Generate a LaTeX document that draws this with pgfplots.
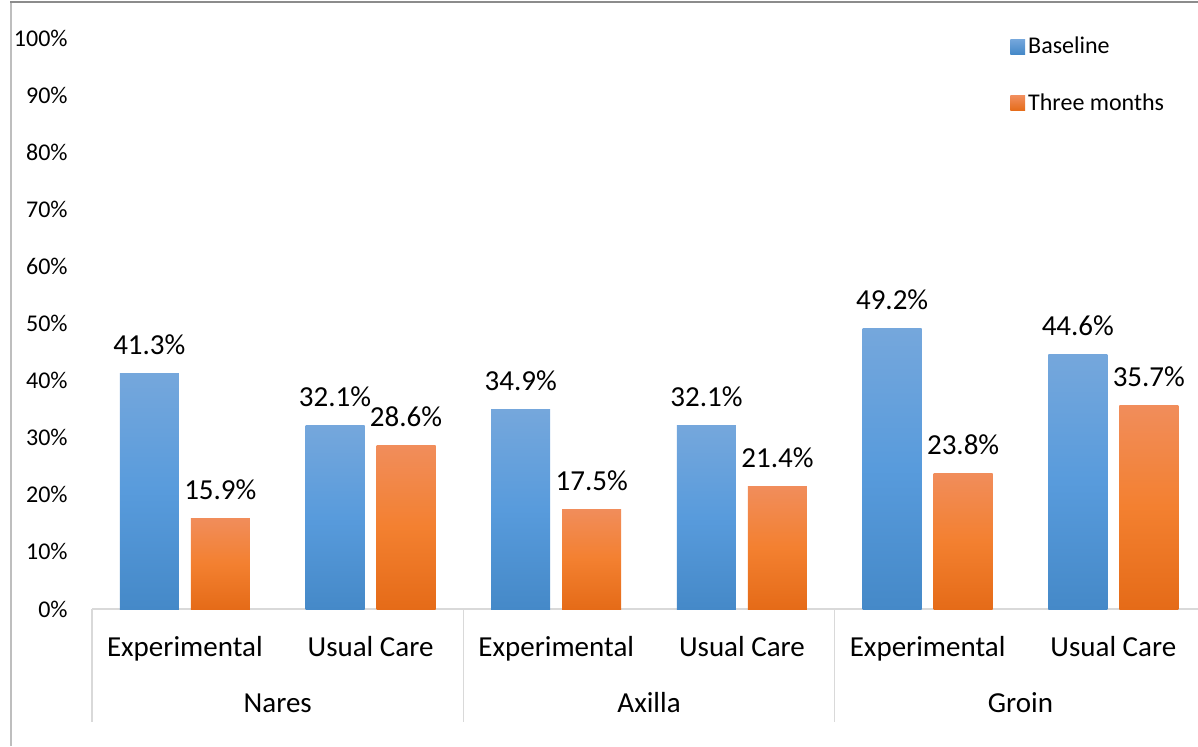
\documentclass[border=0pt]{standalone}
\usepackage{pgfplots}
\pgfplotsset{compat=1.18}
\usepackage{fontspec}
\setmainfont{Carlito}
\definecolor{bluetop}{RGB}{117,167,220}
\definecolor{bluemid}{RGB}{88,155,220}
\definecolor{bluebot}{RGB}{69,137,200}
\definecolor{orgtop}{RGB}{241,141,91}
\definecolor{orgmid}{RGB}{243,128,48}
\definecolor{orgbot}{RGB}{229,107,24}
\definecolor{sepgray}{RGB}{217,217,217}
\definecolor{topgray}{RGB}{140,140,140}
\definecolor{leftgray}{RGB}{190,190,190}
\pgfplotsset{
  bbar/.style={ybar, bar width=29.5pt, bar shift=-17.75pt, draw=none,
    top color=bluetop, bottom color=bluebot, middle color=bluemid, forget plot,
    every node near coord/.append style={xshift=-17.75pt}},
  obar/.style={ybar, bar width=29.5pt, bar shift=17.75pt, draw=none,
    top color=orgtop, bottom color=orgbot, middle color=orgmid, forget plot,
    every node near coord/.append style={xshift=17.75pt}},
}
\begin{document}
\begin{tikzpicture}[x=1pt,y=1pt]
\useasboundingbox (0,0) rectangle (599,373);
\draw[leftgray, line width=0.8pt] (5.5,0) -- (5.5,372);
\draw[topgray, line width=0.8pt] (5.1,372) -- (599,372);
\begin{axis}[
  at={(46pt,68.5pt)}, anchor=south west,
  scale only axis, width=553pt, height=285.5pt,
  xmin=-0.5, xmax=5.456, ymin=0, ymax=100,
  clip=false,
  axis x line*=bottom, axis y line*=left,
  y axis line style={draw=none},
  x axis line style={sepgray, line width=0.65pt},
  xtick={0,1,2,3,4,5},
  xticklabels={Experimental,Usual Care,Experimental,Usual Care,Experimental,Usual Care},
  xtick style={draw=none}, ytick style={draw=none},
  ytick={0,10,...,100},
  yticklabel={\pgfmathprintnumber{\tick}\%},
  /pgf/number format/assume math mode=true,
  yticklabel style={anchor=east, inner sep=0pt, xshift=-12pt, font=\fontsize{12}{14}\selectfont},
  xticklabel style={anchor=base, inner sep=0pt, yshift=-23.5pt, font=\fontsize{14.5}{17}\selectfont},
  nodes near coords={\pgfmathprintnumber[fixed,fixed zerofill,precision=1]{\pgfplotspointmeta}\%},
  nodes near coords style={anchor=base, inner sep=0pt, yshift=9.5pt, text=black, font=\fontsize{14.5}{17}\selectfont},
  legend style={at={(axis description cs:0.830,1.008)}, anchor=north west, draw=none, fill=none,
    inner sep=0pt, row sep=15.5pt, font=\fontsize{12}{14}\selectfont,
    nodes={inner sep=1.5pt}, cells={anchor=west}},
  legend image code/.code={\path[#1, draw=none] (0pt,-3.7pt) rectangle (7.4pt,3.7pt);},
]
\addlegendimage{top color=bluetop, bottom color=bluebot}
\addlegendentry{Baseline}
\addlegendimage{top color=orgtop, bottom color=orgbot}
\addlegendentry{Three months}
% Baseline
\addplot[bbar] coordinates {(0,41.3)};
\addplot[bbar] coordinates {(1,32.1)};
\addplot[bbar] coordinates {(2,34.9)};
\addplot[bbar] coordinates {(3,32.1)};
\addplot[bbar] coordinates {(4,49.2)};
\addplot[bbar] coordinates {(5,44.6)};
% Three months
\addplot[obar] coordinates {(0,15.9)};
\addplot[obar] coordinates {(1,28.6)};
\addplot[obar] coordinates {(2,17.5)};
\addplot[obar] coordinates {(3,21.4)};
\addplot[obar] coordinates {(4,23.8)};
\addplot[obar] coordinates {(5,35.7)};
% group separators and labels
\draw[sepgray, line width=0.65pt] (axis cs:-0.5,0) -- ++(0pt,-56.5pt);
\draw[sepgray, line width=0.65pt] (axis cs:1.5,0) -- ++(0pt,-56.5pt);
\draw[sepgray, line width=0.65pt] (axis cs:3.5,0) -- ++(0pt,-56.5pt);
\node[anchor=base, inner sep=0pt, font=\fontsize{14.5}{17}\selectfont] at ([yshift=-51.5pt]axis cs:0.5,0) {Nares};
\node[anchor=base, inner sep=0pt, font=\fontsize{14.5}{17}\selectfont] at ([yshift=-51.5pt]axis cs:2.5,0) {Axilla};
\node[anchor=base, inner sep=0pt, font=\fontsize{14.5}{17}\selectfont] at ([yshift=-51.5pt]axis cs:4.5,0) {Groin};
\end{axis}
\end{tikzpicture}
\end{document}
